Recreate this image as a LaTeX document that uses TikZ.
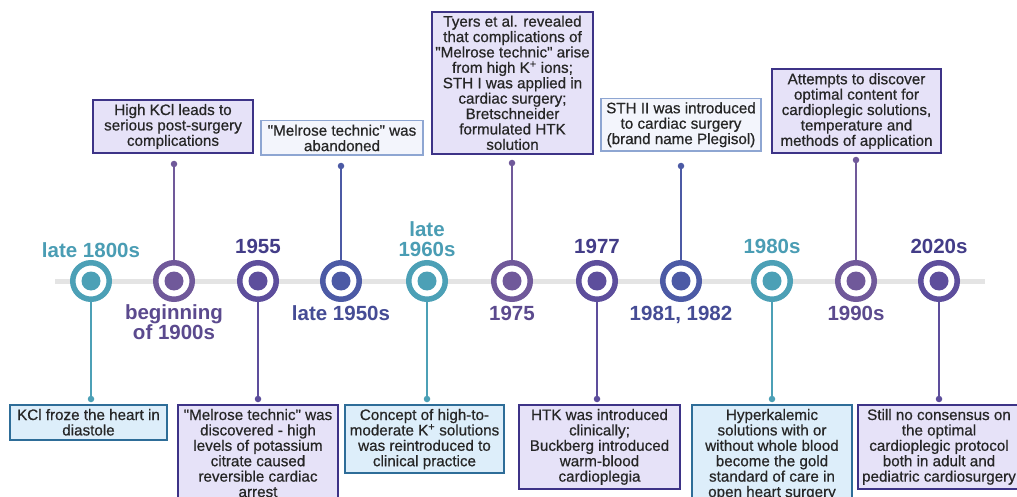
\documentclass[tikz,border=0pt]{standalone}
\usepackage{fontspec}
\setmainfont{Liberation Sans}
\newfontfamily\notefont{Liberation Sans}[FakeBold=0.6]
\newcommand{\quoted}[1]{\textquotedbl#1\textquotedbl}

\definecolor{railgray}{HTML}{E4E4E4}
\definecolor{tealring}{HTML}{4CA0B6}
\definecolor{plumring}{HTML}{70599A}
\definecolor{violetring}{HTML}{5D4E9C}
\definecolor{indigoring}{HTML}{4C5AA5}
\definecolor{tealtext}{HTML}{4A9DB4}
\definecolor{plumtext}{HTML}{5B4A8E}
\definecolor{violettext}{HTML}{433D88}
\definecolor{indigotext}{HTML}{454C95}
\definecolor{bluefill}{HTML}{DDEEFA}
\definecolor{blueedge}{HTML}{2E6D98}
\definecolor{lavfill}{HTML}{E6E2F8}
\definecolor{lavedge}{HTML}{3D3387}
\definecolor{palefill}{HTML}{F3F5FC}
\definecolor{paleedge}{HTML}{8EA6D2}

\tikzset{
    rail/.style={line width=5pt, draw=railgray},
    ring/.style={circle, draw=#1, line width=5.5pt, fill=white, minimum size=36.5pt, inner sep=0pt},
    stem/.style={draw=#1, line width=2pt},
    knob/.style={circle, fill=#1, inner sep=0pt, minimum size=6.5pt},
    year/.style={text=#1, font=\fontsize{20.5}{20.5}\selectfont\bfseries, align=center},
    note/.style={rectangle, align=center, inner xsep=3pt, inner ysep=4pt,
        text=black!85, font=\notefont\fontsize{15.2}{15.4}\selectfont},
    bluenote/.style={note, fill=bluefill, draw=blueedge, line width=2pt},
    lavnote/.style={note, fill=lavfill, draw=lavedge, line width=2pt},
    palenote/.style={note, fill=palefill, draw=paleedge, line width=1.5pt},
}

\begin{document}
\begin{tikzpicture}[x=1pt, y=-1pt]
    \useasboundingbox[fill=white] (0,0) rectangle (1017,497);

    % timeline
    \coordinate (tl) at (55,281);
    \coordinate (tr) at (985,281);
    \draw[rail] (tl) -- (tr);

    % event rings
    \node[ring=tealring]   (c1)  at (91,281)  {};
    \node[ring=plumring]   (c2)  at (174,281) {};
    \node[ring=violetring] (c3)  at (258,281) {};
    \node[ring=indigoring] (c4)  at (341,281) {};
    \node[ring=tealring]   (c5)  at (427,281) {};
    \node[ring=plumring]   (c6)  at (512,281) {};
    \node[ring=violetring] (c7)  at (597,281) {};
    \node[ring=indigoring] (c8)  at (681,281) {};
    \node[ring=tealring]   (c9)  at (772,281) {};
    \node[ring=plumring]   (c10) at (856,281) {};
    \node[ring=violetring] (c11) at (939,281) {};
    \fill[tealring]   (c1.center)  circle (9.5pt);
    \fill[plumring]   (c2.center)  circle (9.5pt);
    \fill[violetring] (c3.center)  circle (9.5pt);
    \fill[indigoring] (c4.center)  circle (9.5pt);
    \fill[tealring]   (c5.center)  circle (9.5pt);
    \fill[plumring]   (c6.center)  circle (9.5pt);
    \fill[violetring] (c7.center)  circle (9.5pt);
    \fill[indigoring] (c8.center)  circle (9.5pt);
    \fill[tealring]   (c9.center)  circle (9.5pt);
    \fill[plumring]   (c10.center) circle (9.5pt);
    \fill[violetring] (c11.center) circle (9.5pt);

    % years
    \node[year=tealtext, anchor=base]   (y1)  at (91,257)  {late 1800s};
    \node[year=plumtext]                (y2)  at (174,322) {beginning\\of 1900s};
    \node[year=violettext, anchor=base] (y3)  at (258,253) {1955};
    \node[year=indigotext, anchor=base] (y4)  at (341,320) {late 1950s};
    \node[year=tealtext]                (y5)  at (427,239) {late\\1960s};
    \node[year=plumtext, anchor=base]   (y6)  at (512,320) {1975};
    \node[year=violettext, anchor=base] (y7)  at (597,253) {1977};
    \node[year=indigotext, anchor=base] (y8)  at (681,320) {1981, 1982};
    \node[year=tealtext, anchor=base]   (y9)  at (772,253) {1980s};
    \node[year=plumtext, anchor=base]   (y10) at (856,320) {1990s};
    \node[year=violettext, anchor=base] (y11) at (939,253) {2020s};

    % boxes above the line
    \node[lavnote, anchor=south, minimum width=160pt] (b2) at (173,154)
        {High KCl leads to\\serious post-surgery\\complications};
    \node[palenote, anchor=south, minimum width=162pt] (b4) at (342,156)
        {\quoted{Melrose technic} was\\abandoned};
    \node[lavnote, anchor=south, minimum width=161pt] (b6) at (512.5,155)
        {Tyers et al. revealed\\that complications of\\\quoted{Melrose technic} arise\\from high K\textsuperscript{+} ions;\\STH I was applied in\\cardiac surgery;\\Bretschneider\\formulated HTK\\solution};
    \node[palenote, anchor=south, minimum width=160pt] (b8) at (681,152)
        {STH II was introduced\\to cardiac surgery\\(brand name Plegisol)};
    \node[lavnote, anchor=south, minimum width=169pt] (b10) at (856.5,154)
        {Attempts to discover\\optimal content for\\cardioplegic solutions,\\temperature and\\methods of application};

    % boxes below the line
    \node[bluenote, anchor=north, minimum width=157pt] (b1) at (88.5,404)
        {KCl froze the heart in\\diastole};
    \node[lavnote, anchor=north, minimum width=160pt] (b3) at (258,404)
        {\quoted{Melrose technic} was\\discovered - high\\levels of potassium\\citrate caused\\reversible cardiac\\arrest};
    \node[bluenote, anchor=north, minimum width=159pt] (b5) at (424.5,404)
        {Concept of high-to-\\moderate K\textsuperscript{+} solutions\\was reintroduced to\\clinical practice};
    \node[lavnote, anchor=north, minimum width=161pt] (b7) at (599.5,404)
        {HTK was introduced\\clinically;\\Buckberg introduced\\warm-blood\\cardioplegia};
    \node[bluenote, anchor=north, minimum width=160pt] (b9) at (772,404)
        {Hyperkalemic\\solutions with or\\without whole blood\\become the gold\\standard of care in\\open heart surgery};
    \node[lavnote, anchor=north, minimum width=162pt] (b11) at (939,404)
        {Still no consensus on\\the optimal\\cardioplegic protocol\\both in adult and\\pediatric cardiosurgery};

    % stems with end knobs
    \node[knob=plumring]   (k2)  at (174,164) {};
    \node[knob=indigoring] (k4)  at (341,166) {};
    \node[knob=plumring]   (k6)  at (512,163) {};
    \node[knob=indigoring] (k8)  at (681,166) {};
    \node[knob=plumring]   (k10) at (856,160) {};
    \node[knob=tealring]   (k1)  at (91,399)  {};
    \node[knob=violetring] (k3)  at (258,399) {};
    \node[knob=tealring]   (k5)  at (427,399) {};
    \node[knob=violetring] (k7)  at (597,399) {};
    \node[knob=tealring]   (k9)  at (772,399) {};
    \node[knob=violetring] (k11) at (939,399) {};
    \draw[stem=plumring]   (c2)  -- (k2.center);
    \draw[stem=indigoring] (c4)  -- (k4.center);
    \draw[stem=plumring]   (c6)  -- (k6.center);
    \draw[stem=indigoring] (c8)  -- (k8.center);
    \draw[stem=plumring]   (c10) -- (k10.center);
    \draw[stem=tealring]   (c1)  -- (k1.center);
    \draw[stem=violetring] (c3)  -- (k3.center);
    \draw[stem=tealring]   (c5)  -- (k5.center);
    \draw[stem=violetring] (c7)  -- (k7.center);
    \draw[stem=tealring]   (c9)  -- (k9.center);
    \draw[stem=violetring] (c11) -- (k11.center);
\end{tikzpicture}
\end{document}
